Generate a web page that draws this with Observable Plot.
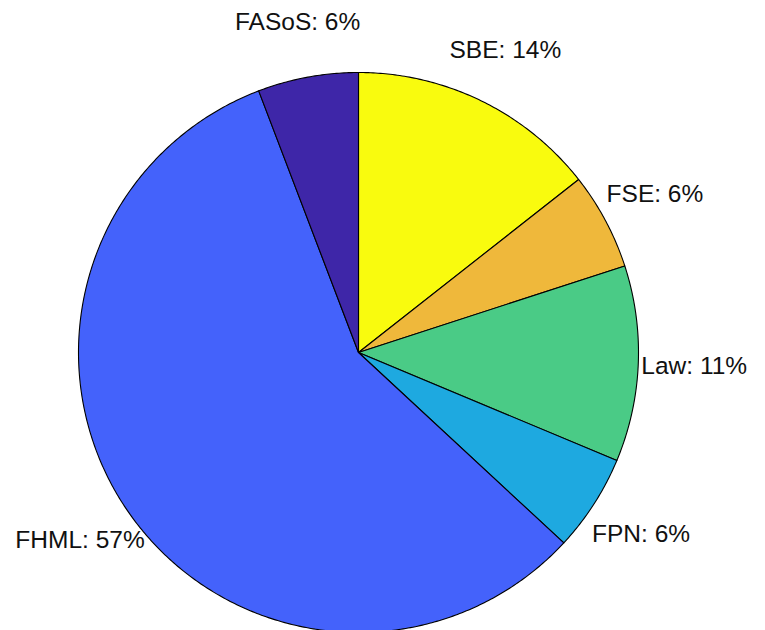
<!DOCTYPE html>
<html>
<head>
<meta charset="utf-8">
<script src="https://cdn.jsdelivr.net/npm/d3@7"></script>
<script src="https://cdn.jsdelivr.net/npm/@observablehq/plot@0.6"></script>
<style>
  html, body { margin: 0; padding: 0; background: #fff; }
</style>
</head>
<body>
<div id="chart"></div>
<script>
// Slices in clockwise order starting at 12 o'clock
const categories = ["SBE", "FSE", "Law", "FPN", "FHML", "FASoS"];
const values = [14.4, 5.6, 11.3, 5.6, 57.3, 5.8];
const colors = ["#F9FB0E", "#EFB83B", "#4ACB86", "#1EA9E0", "#4462FB", "#3E26A8"];

const total = d3.sum(values);
const pie = d3.pie().sort(null).value(d => d.value)(
  categories.map((name, i) => ({name, value: values[i]}))
);

// Polygon outlines for each wedge (unit radius; angle clockwise from top)
const wedgePts = [];
for (const p of pie) {
  const name = p.data.name;
  wedgePts.push({name, x: 0, y: 0});
  const n = Math.max(2, Math.ceil((p.endAngle - p.startAngle) / (Math.PI / 360)));
  for (let k = 0; k <= n; k++) {
    const a = p.startAngle + (p.endAngle - p.startAngle) * k / n;
    wedgePts.push({name, x: Math.sin(a), y: Math.cos(a)});
  }
  wedgePts.push({name, x: 0, y: 0});
}

const labelR = 1.2;
const labels = pie.map(p => {
  const a = (p.startAngle + p.endAngle) / 2;
  return {
    name: p.data.name,
    x: labelR * Math.sin(a),
    y: labelR * Math.cos(a),
    text: `${p.data.name}: ${Math.round(100 * p.data.value / total)}%`
  };
});

const W = 765, H = 630, cx = 358, cy = 352, R = 280;

const chart = Plot.plot({
  width: W,
  height: H,
  margin: 0,
  style: {background: "#fff", overflow: "visible"},
  x: {axis: null, domain: [-cx / R, (W - cx) / R]},
  y: {axis: null, domain: [-(H - cy) / R, cy / R]},
  color: {domain: categories, range: colors},
  marks: [
    Plot.line(wedgePts, {
      x: "x", y: "y", z: "name", fill: "name",
      stroke: "#000", strokeWidth: 1.1, strokeLinejoin: "round", curve: "linear"
    }),
    Plot.text(labels, {
      x: "x", y: "y", text: "text",
      fontSize: 24.5, fill: "#111",
      fontFamily: "'Liberation Sans', Arial, Helvetica, sans-serif",
      textAnchor: "middle"
    })
  ]
});

document.getElementById("chart").appendChild(chart);
</script>
</body>
</html>
